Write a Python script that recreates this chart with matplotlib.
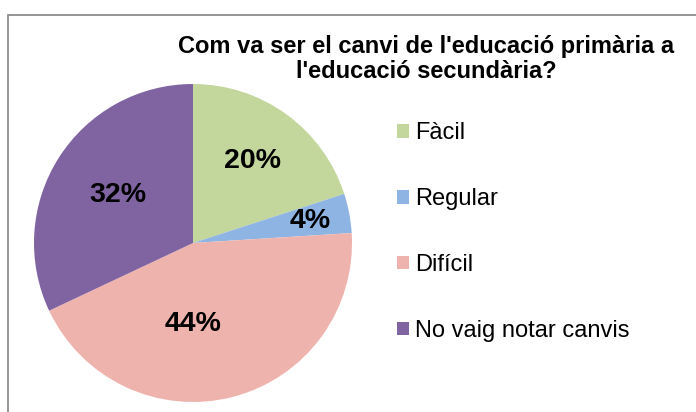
import numpy as np
import matplotlib
matplotlib.use("Agg")
import matplotlib.pyplot as plt
from matplotlib.patches import Rectangle

# data
categories = ["Fàcil", "Regular", "Difícil", "No vaig notar canvis"]
values = [20, 4, 44, 32]
colors = ["#C3D69B", "#8EB4E3", "#EFB3AD", "#8064A2"]
title = "Com va ser el canvi de l'educació primària a\nl'educació secundària?"

plt.rcParams['font.family'] = ['Liberation Sans', 'DejaVu Sans']

W, H = 696, 412
fig = plt.figure(figsize=(W / 100, H / 100), dpi=100)

# outer chart frame (cut at right and bottom like the original)
fig.patches.append(Rectangle((8 / W, -0.05), 1.1, 1 - 15 / H + 0.05,
                             transform=fig.transFigure, fill=False,
                             edgecolor="#8C8C8C", linewidth=1.3))

# pie axes: centre (193, 243) px, radius 159 px
cx, cy, r = 193, 243, 159
ax = fig.add_axes([(cx - r) / W, (H - cy - r) / H, 2 * r / W, 2 * r / H])
wedges, _ = ax.pie(values, colors=colors, startangle=90, counterclock=False,
                   radius=1, wedgeprops=dict(linewidth=0))
ax.set_xlim(-1, 1)
ax.set_ylim(-1, 1)
ax.set_aspect("equal")
ax.axis("off")

# percentage labels
dist = [0.64, 0.75, 0.51, 0.56]
for w, v, d in zip(wedges, values, dist):
    ang = np.deg2rad((w.theta1 + w.theta2) / 2)
    if v == 44:
        ang = np.deg2rad(-90)
    ax.text(d * np.cos(ang), d * np.sin(ang), f"{v}%", ha="center", va="center",
            fontsize=20.5, fontweight="bold", color="black")

fig.text(426 / W, 1 - 59 / H, title, ha="center", va="center",
         fontsize=17, fontweight="bold", linespacing=1.08)

fig.legend(wedges, categories, loc="upper left",
           bbox_to_anchor=(376 / W, 1 - 101 / H), frameon=False,
           fontsize=17, handlelength=0.5, handleheight=0.5,
           handletextpad=0.25, labelspacing=1.86)

fig.savefig("out.png", dpi=100)
